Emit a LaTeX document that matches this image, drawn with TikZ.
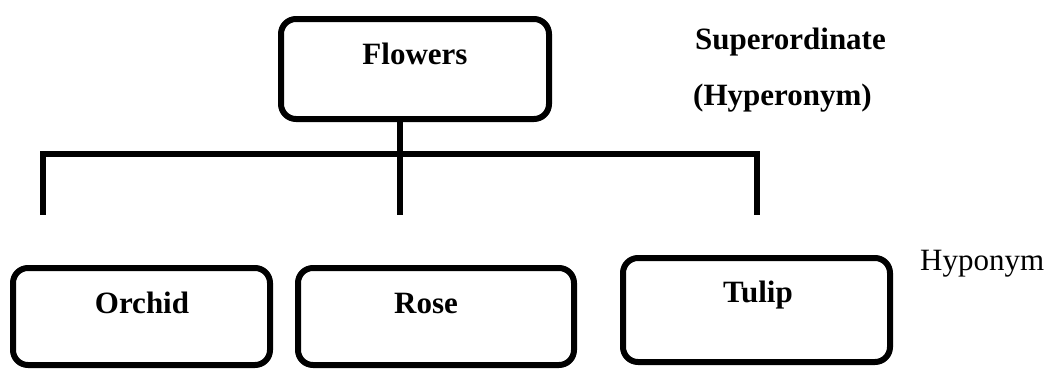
\documentclass[tikz,border=0pt]{standalone}
\usepackage{fontspec}
\setmainfont{Liberation Serif}
\begin{document}
\begin{tikzpicture}[x=1pt,y=-1pt,
  box/.style={draw, line width=6pt, rounded corners=15pt, inner sep=0pt},
  link/.style={line width=6pt},
  lbl/.style={font=\fontsize{31}{37}\selectfont\bfseries, inner sep=0pt, anchor=base},
  side/.style={font=\fontsize{31}{37}\selectfont, inner sep=0pt, anchor=base west}]
\useasboundingbox (0,0) rectangle (1055,370);

% boxes
\node[box, minimum width=268pt, minimum height=100pt] (flowers) at (415,69) {};
\node[box, minimum width=257pt, minimum height=97pt] (orchid) at (141.5,316.5) {};
\node[box, minimum width=276pt, minimum height=97pt] (rose) at (436,316.5) {};
\node[box, minimum width=267pt, minimum height=104pt] (tulip) at (756.5,310) {};

% box captions
\node[lbl] (tflowers) at (415,64) {Flowers};
\node[lbl] (torchid) at (142,313) {Orchid};
\node[lbl] (trose) at (426,313) {Rose};
\node[lbl] (ttulip) at (758,302) {Tulip};

% level labels
\node[lbl, anchor=base west] (super) at (695,49) {Superordinate};
\node[lbl, anchor=base west] (hyper) at (693,105) {(Hyperonym)};
\node[side] (hypo) at (920,270) {Hyponym};

% branching lines
\coordinate (barL) at (40,154);
\coordinate (barR) at (760,154);
\coordinate (stemEnd) at (400,215);
\coordinate (legL) at (43,215);
\coordinate (legR) at (757,215);
\draw[link] (barL) -- (barR);
\draw[link] (flowers.south -| stemEnd) -- (stemEnd);
\draw[link] (legL |- barL) -- (legL);
\draw[link] (legR |- barR) -- (legR);
\end{tikzpicture}
\end{document}
